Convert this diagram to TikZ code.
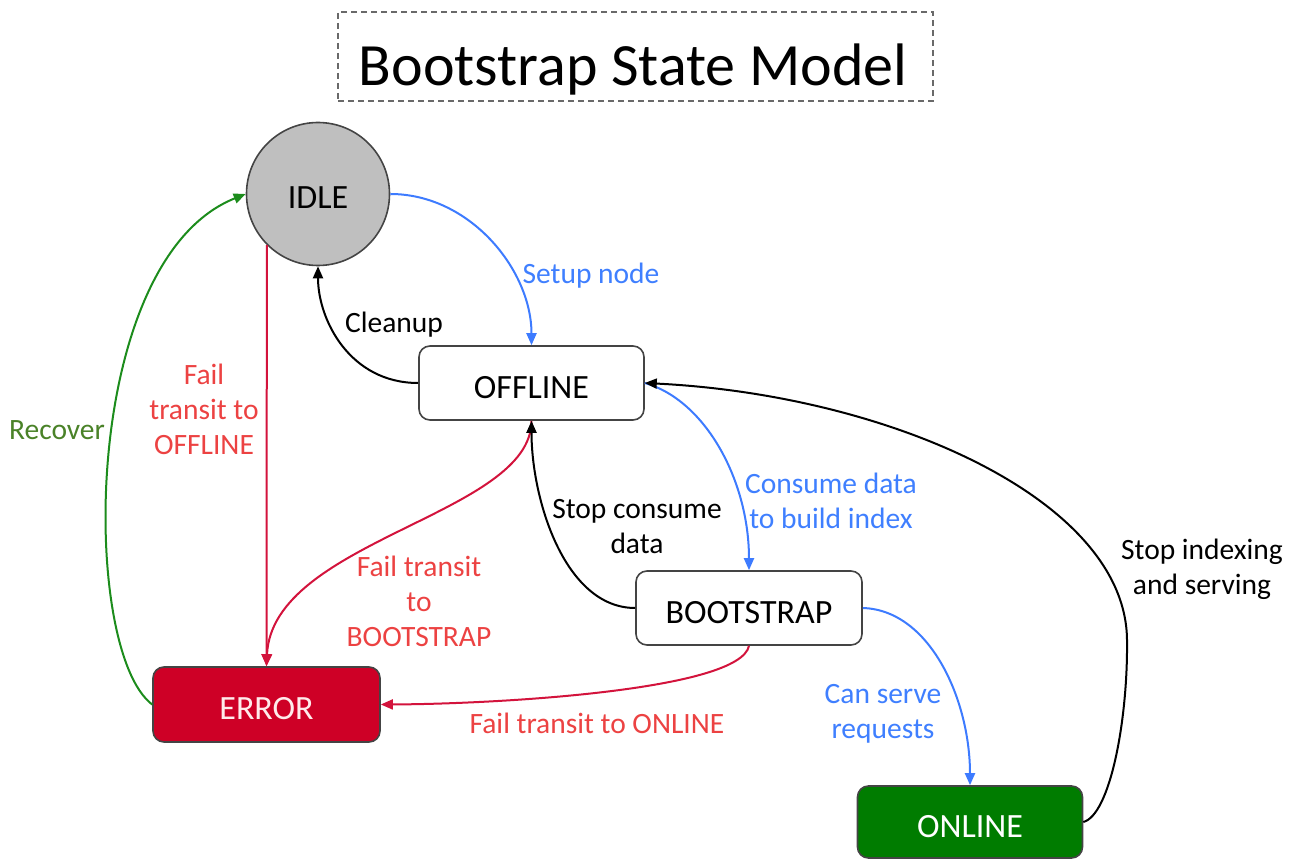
\documentclass[tikz,border=0pt]{standalone}
\usepackage{fontspec}
\setmainfont{Carlito}
\usetikzlibrary{arrows.meta}
\definecolor{idlegray}{HTML}{BFBFBF}
\definecolor{errorred}{HTML}{CE0026}
\definecolor{onlinegreen}{HTML}{007C00}
\definecolor{lineblue}{HTML}{3D7BFF}
\definecolor{labelblue}{HTML}{3F7FFF}
\definecolor{linered}{HTML}{D3133C}
\definecolor{labelred}{HTML}{EC4242}
\definecolor{linegreen}{HTML}{1C8C1C}
\definecolor{labelgreen}{HTML}{4A8228}
\definecolor{boxgray}{HTML}{444444}
\begin{document}
\begin{tikzpicture}[x=1pt,y=-1pt,
  statebox/.style={draw=boxgray, line width=1.6pt, rounded corners=11pt, minimum width=225pt, minimum height=74pt, inner sep=0pt, font=\fontsize{34}{40}\selectfont, text height=30pt, text depth=0pt},
  edgelabel/.style={align=center, inner sep=0pt, font=\fontsize{29.5}{35}\selectfont},
  conn/.style={line width=2pt, -{Triangle[length=12pt,width=10pt]}},
]
\useasboundingbox (0,0) rectangle (1294,861);
% title
\node[draw=boxgray!80, dashed, dash pattern=on 6pt off 4pt, line width=1.6pt, minimum width=595pt, minimum height=89pt, inner sep=0pt] (titlebox) at (635.5,56.5) {};
\node[font=\fontsize{60}{72}\selectfont, inner sep=0pt] (title) at (633,70) {Bootstrap State Model};
% states
\node[circle, draw=boxgray, line width=1.6pt, fill=idlegray, minimum size=143pt, inner sep=0pt, font=\fontsize{34}{40}\selectfont, text height=30pt, text depth=0pt] (idle) at (318,194) {IDLE};
\node[statebox, fill=white] (offline) at (531.5,383) {OFFLINE};
\node[statebox, fill=white, minimum width=226pt] (bootstrap) at (749,608) {BOOTSTRAP};
\node[statebox, fill=errorred, text=white!92!red, minimum width=227pt, minimum height=75pt] (error) at (266.5,704.5) {ERROR};
\node[statebox, fill=onlinegreen, text=white, minimum height=72pt] (online) at (970,822) {ONLINE};
% connectors
\draw[conn, lineblue] (idle.east) .. controls (470,194) and (531.5,270) .. (offline.north);
\draw[conn, black] (offline.west) .. controls (350,383) and (318,320) .. (idle.south);
\draw[conn, linered] (idle.225) -- (error.north);
\draw[conn, linered] (offline.south) .. controls (531.5,515) and (272,540) .. (error.north);
\draw[conn, black] (bootstrap.west) .. controls (565,608) and (531.5,500) .. (offline.south);
\draw[conn, lineblue] (offline.east) .. controls (705,400) and (749,480) .. (bootstrap.north);
\coordinate (bend) at (1127,640);
\draw[conn, black] (online.east) .. controls (1110,815) and (1128,720) .. (bend) .. controls (1126,500) and (890,395) .. (offline.east);
\draw[conn, lineblue] (bootstrap.east) .. controls (930,610) and (970,700) .. (online.north);
\draw[conn, linered] (bootstrap.south) .. controls (740,690) and (500,704) .. (error.east);
\draw[conn, linegreen] (error.west) .. controls (80,650) and (80,260) .. (idle.west);
% labels
\node[edgelabel, text=labelblue] (lsetup) at (591,276) {Setup node};
\node[edgelabel] (lcleanup) at (394,325) {Cleanup};
\node[edgelabel, text=labelred] (lfailoff) at (204,409) {Fail\\transit to\\OFFLINE};
\node[edgelabel, text=labelred] (lfailboot) at (419,601) {Fail transit\\to\\BOOTSTRAP};
\node[edgelabel] (lstop) at (637,527) {Stop consume\\data};
\node[edgelabel, text=labelblue] (lconsume) at (831,501) {Consume data\\to build index};
\node[edgelabel] (lstopidx) at (1202,569) {Stop indexing\\and serving};
\node[edgelabel, text=labelblue] (lserve) at (883,714) {Can serve\\requests};
\node[edgelabel, text=labelred] (lfailon) at (597,723) {Fail transit to ONLINE};
\node[edgelabel, text=labelgreen] (lrecover) at (57,430) {Recover};
\end{tikzpicture}
\end{document}
